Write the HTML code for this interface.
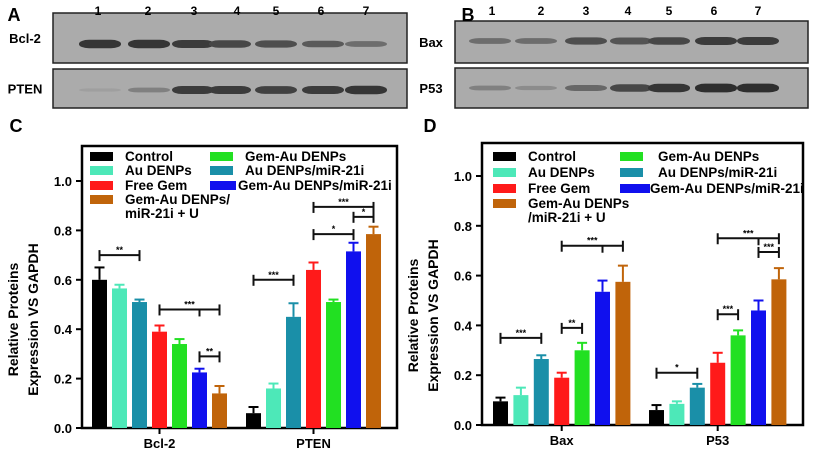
<!DOCTYPE html>
<html><head><meta charset="utf-8"><style>
html,body{margin:0;padding:0;background:#fff;}
svg{display:block;font-family:"Liberation Sans",Arial,sans-serif;font-weight:bold;}
</style></head><body>
<svg id="fig" width="816" height="455" viewBox="0 0 816 455" xmlns="http://www.w3.org/2000/svg">
</svg>
<script>
// ---- data ----
const seriesNames = ["Control","Au DENPs","Au DENPs/miR-21i","Free Gem","Gem-Au DENPs","Gem-Au DENPs/miR-21i","Gem-Au DENPs/miR-21i + U"];
const seriesColors = ["#000000","#4de8b8","#1a8fa8","#ff1a1a","#22e022","#1010ee","#c0640a"];
const yTicks = [0.0,0.2,0.4,0.6,0.8,1.0];
const yTickLabels = ["0.0","0.2","0.4","0.6","0.8","1.0"];
const catsC = ["Bcl-2","PTEN"];
const bcl2Mean = [0.60,0.565,0.51,0.39,0.34,0.225,0.14];
const bcl2Err  = [0.05,0.015,0.01,0.025,0.02,0.015,0.03];
const ptenMean = [0.06,0.16,0.45,0.64,0.51,0.715,0.785];
const ptenErr  = [0.025,0.02,0.055,0.03,0.01,0.035,0.03];
const catsD = ["Bax","P53"];
const baxMean = [0.095,0.12,0.265,0.19,0.30,0.535,0.575];
const baxErr  = [0.015,0.03,0.015,0.02,0.03,0.045,0.065];
const p53Mean = [0.06,0.085,0.15,0.25,0.36,0.46,0.585];
const p53Err  = [0.02,0.01,0.015,0.04,0.02,0.04,0.045];
// significance brackets: [group, fromBar, toBar, midBar(-1 none), level, label]
const sigC = [[0,0,2,-1,0.70,"**"],[0,3,6,5,0.48,"***"],[0,5,6,-1,0.29,"**"],[1,0,2,-1,0.60,"***"],[1,3,5,-1,0.785,"*"],[1,3,6,-1,0.895,"***"],[1,5,6,-1,0.855,"*"]];
const sigD = [[0,0,2,-1,0.35,"***"],[0,3,4,-1,0.39,"**"],[0,3,6,5,0.72,"***"],[1,0,2,-1,0.21,"*"],[1,3,4,-1,0.445,"***"],[1,3,6,5,0.75,"***"],[1,5,6,-1,0.695,"***"]];
// blot band intensities (0..1) per lane
const bandBcl2 = [0.9,0.9,0.85,0.75,0.7,0.6,0.45];
const bandPten = [0.05,0.3,0.85,0.85,0.8,0.85,0.9];
const bandBax  = [0.45,0.45,0.7,0.65,0.75,0.85,0.85];
const bandP53  = [0.3,0.2,0.5,0.75,0.9,0.95,0.95];

const NS="http://www.w3.org/2000/svg";
const svg=document.getElementById('fig');
function mk(tag,attrs,parent){const e=document.createElementNS(NS,tag);for(const k in attrs)e.setAttribute(k,attrs[k]);(parent||svg).appendChild(e);return e;}
function txt(s,attrs,parent){const e=mk('text',attrs,parent);e.textContent=s;return e;}

// ---- blots ----
function blot(x0,x1,y0,y1,label,lx,bands,laneX,bandY,name){
  const g=mk('g',{});
  
  
  mk('rect',{x:x0,y:y0,width:x1-x0,height:y1-y0,fill:'#ababab',stroke:'#222','stroke-width':1.5},g);
  bands.forEach((v,i)=>{
    const c=Math.round(165-125*v);
    const b=mk('rect',{x:laneX[i]-21,y:bandY-(1.5+3*v),width:42,height:3+6*v,rx:10,ry:4,fill:`rgb(${c},${c},${c})`},g);
    
    
  });
  const t=txt(label,{x:lx,y:(y0+y1)/2+5,'font-size':13,'text-anchor':'middle'},g);
  
  
}
const laneA=[100,149,193,230,276,323,366];
const laneB=[490,536,586,631,669,716,758];
blot(53,407,13,63,"Bcl-2",25,bandBcl2,laneA,44,'blot-bcl2');
blot(53,407,69,108,"PTEN",25,bandPten,laneA,90,'blot-pten');
blot(455,808,21,63,"Bax",431,bandBax,laneB,41,'blot-bax');
blot(455,808,68,108,"P53",431,bandP53,laneB,88,'blot-p53');
[98,148,194,237,276,321,366].forEach((x,i)=>{const t=txt(String(i+1),{x:x,y:15,'font-size':12,'text-anchor':'middle'});});
[492,541,586,628,669,714,758].forEach((x,i)=>{const t=txt(String(i+1),{x:x,y:15,'font-size':12,'text-anchor':'middle'});});
[["A",14,21],["B",468,21],["C",16,132],["D",430,132]].forEach(p=>{const t=txt(p[0],{x:p[1],y:p[2],'font-size':18,'text-anchor':'middle'});});

// ---- bar charts ----
function chart(cfg){
  const g=mk('g',{});
  
  
  const yS=v=>cfg.y0-(cfg.y0-cfg.y1)*v;
  const xB=(gi,bi)=>cfg.gStart[gi]+bi*cfg.step;
  mk('rect',{x:cfg.left,y:cfg.top,width:cfg.right-cfg.left,height:cfg.y0-cfg.top,fill:'none',stroke:'#000','stroke-width':2.5},g);
  yTicks.forEach((v,i)=>{
    mk('line',{x1:cfg.left-6,x2:cfg.left,y1:yS(v),y2:yS(v),stroke:'#000','stroke-width':2},g);
    const t=txt(yTickLabels[i],{x:cfg.left-10,y:yS(v)+5,'font-size':13,'text-anchor':'end'},g);
    
    
  });
  const yt=txt('',{transform:`translate(${cfg.left-52},${(cfg.y0+cfg.y1)/2+15}) rotate(-90)`,'font-size':14,'text-anchor':'middle'},g);
  
  
  const s1=mk('tspan',{x:0,dy:-12},yt);s1.textContent='Relative Proteins';
  const s2=mk('tspan',{x:0,dy:20},yt);s2.textContent='Expression VS GAPDH';
  cfg.cats.forEach((c,gi)=>{
    const cx=(xB(gi,0)+xB(gi,6)+cfg.bw)/2;
    mk('line',{x1:cx,x2:cx,y1:cfg.y0,y2:cfg.y0+6,stroke:'#000','stroke-width':2},g);
    const t=txt(c,{x:cx,y:cfg.y0+20,'font-size':13,'text-anchor':'middle'},g);
    
    
    const m=cfg.means[gi],e=cfg.errs[gi];
    m.forEach((v,bi)=>{
      const x=xB(gi,bi),cx2=x+cfg.bw/2;
      mk('line',{x1:cx2,x2:cx2,y1:yS(v),y2:yS(v+e[bi]),stroke:seriesColors[bi],'stroke-width':2},g);
      mk('line',{x1:cx2-5,x2:cx2+5,y1:yS(v+e[bi]),y2:yS(v+e[bi]),stroke:seriesColors[bi],'stroke-width':2},g);
      const r=mk('rect',{x:x,y:yS(v),width:cfg.bw,height:cfg.y0-yS(v),fill:seriesColors[bi]},g);
      
      
    });
  });
  cfg.sig.forEach(s=>{
    const [gi,a,b,mid,lev,lab]=s;
    const xa=xB(gi,a)+cfg.bw/2,xb=xB(gi,b)+cfg.bw/2,y=yS(lev);
    const sg=mk('g',{},g);
    
    
    mk('line',{x1:xa,x2:xb,y1:y,y2:y,stroke:'#111','stroke-width':2},sg);
    mk('line',{x1:xa,x2:xa,y1:y-5,y2:y+6,stroke:'#111','stroke-width':2},sg);
    mk('line',{x1:xb,x2:xb,y1:y-5,y2:y+6,stroke:'#111','stroke-width':2},sg);
    if(mid>=0){const xm=xB(gi,mid)+cfg.bw/2;mk('line',{x1:xm,x2:xm,y1:y,y2:y+7,stroke:'#111','stroke-width':2},sg);}
    txt(lab,{x:(xa+xb)/2,y:y-2,'font-size':9,'text-anchor':'middle'},sg);
  });
  // legend
  const lg=mk('g',{},g);
  
  
  cfg.legend.forEach(L=>{
    const e=mk('g',{},lg);
    
    
    mk('rect',{x:L[1],y:L[2]-9,width:L[3],height:9,fill:seriesColors[L[0]]},e);
    L[5].forEach((line,k)=>txt(line,{x:L[4],y:L[2]+k*14,'font-size':13.5},e));
  });
}
chart({name:'chart-c',left:82,right:397,top:146,y0:428,y1:181,bw:15,step:20,gStart:[92,246],cats:catsC,
  means:[bcl2Mean,ptenMean],errs:[bcl2Err,ptenErr],sig:sigC,
  legend:[[0,90,161,23,125,["Control"]],[1,90,175,23,125,["Au DENPs"]],[3,90,190,23,125,["Free Gem"]],[6,90,204,23,125,["Gem-Au DENPs/","miR-21i + U"]],
          [4,210,161,23,245,["Gem-Au DENPs"]],[2,210,175,23,245,["Au DENPs/miR-21i"]],[5,210,190,26,238,["Gem-Au DENPs/miR-21i"]]]});
chart({name:'chart-d',left:482,right:803,top:143,y0:425,y1:176,bw:15,step:20.4,gStart:[493,649],cats:catsD,
  means:[baxMean,p53Mean],errs:[baxErr,p53Err],sig:sigD,
  legend:[[0,493,161,23,528,["Control"]],[1,493,177,23,528,["Au DENPs"]],[3,493,193,23,528,["Free Gem"]],[6,493,208,23,528,["Gem-Au DENPs","/miR-21i + U"]],
          [4,620,161,23,658,["Gem-Au DENPs"]],[2,620,177,23,658,["Au DENPs/miR-21i"]],[5,620,193,30,650,["Gem-Au DENPs/miR-21i"]]]});
</script>
</body></html>
